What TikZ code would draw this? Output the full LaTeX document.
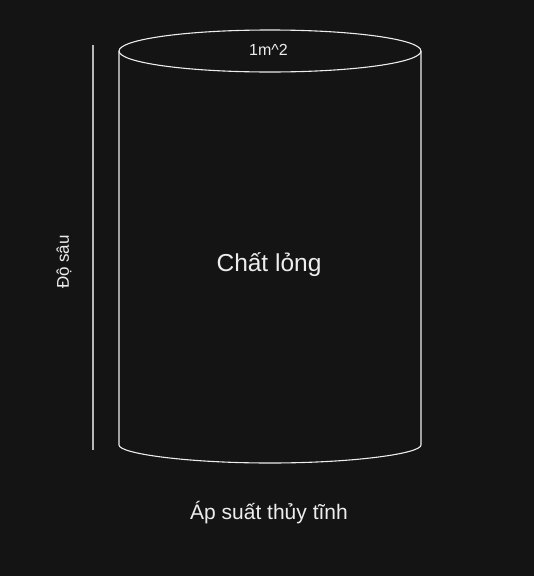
\documentclass[tikz,border=0pt]{standalone}
\usepackage{fontspec}
\setmainfont{Liberation Sans}
\definecolor{bg}{HTML}{141414}
\definecolor{fg}{HTML}{EDEDED}
\definecolor{rule}{HTML}{B8B8B8}
\begin{document}
\begin{tikzpicture}[x=1pt,y=1pt,
  outline/.style={draw=fg, line width=1.1pt},
  lbl/.style={text=fg, inner sep=0pt, anchor=center}]
\useasboundingbox[fill=bg] (0,0) rectangle (534,-576);
% cylinder
\draw[outline] (270,-51) ellipse [x radius=151, y radius=21];
\draw[outline, rounded corners=3pt] (119,-51) -- (119,-442) arc[start angle=180, end angle=360, x radius=151, y radius=21] -- (421,-51);
% depth rule
\coordinate (rtop) at (93,-45);
\coordinate (rbot) at (93,-450);
\draw[rule, line width=1.1pt] (rtop) -- (rbot);
% labels
\node[lbl, font=\fontsize{16}{19}\selectfont] (area) at (268.5,-50) {1m\^{}2};
\node[lbl, font=\fontsize{24.5}{28}\selectfont] (liquid) at (269,-265) {Chất lỏng};
\node[lbl, font=\fontsize{17}{20}\selectfont, rotate=90] (depth) at (64,-262) {Độ sâu};
\node[lbl, font=\fontsize{21}{24}\selectfont] (press) at (269,-513) {Áp suất thủy tĩnh};
\end{tikzpicture}
\end{document}
